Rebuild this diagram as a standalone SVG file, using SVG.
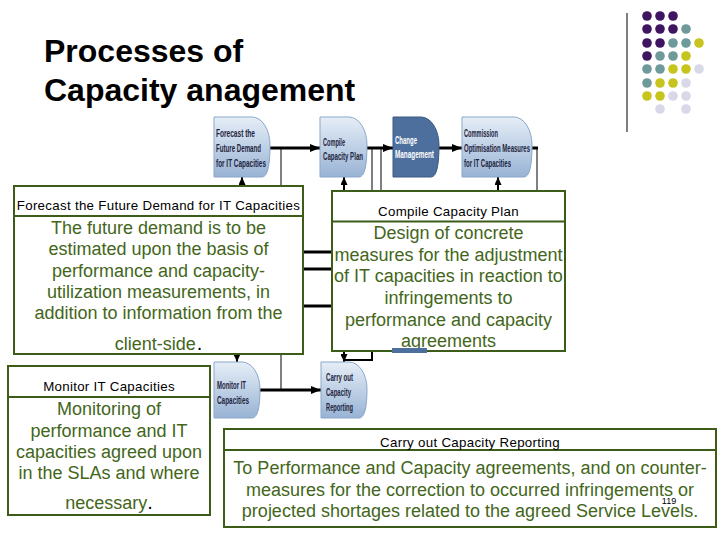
<svg xmlns="http://www.w3.org/2000/svg" width="720" height="540" viewBox="0 0 720 540">
<defs>
<linearGradient id="pg" x1="0" y1="0" x2="0" y2="1">
<stop offset="0" stop-color="#e6eef7"/>
<stop offset="1" stop-color="#98b3d4"/>
</linearGradient>
<marker id="ah" markerUnits="userSpaceOnUse" markerWidth="10" markerHeight="8" refX="10" refY="4" orient="auto">
<path d="M0,0 L10,4 L0,8 Z" fill="#000"/>
</marker>
<marker id="ahs" markerUnits="userSpaceOnUse" markerWidth="8" markerHeight="7" refX="8" refY="3.5" orient="auto">
<path d="M0,0 L8,3.5 L0,7 Z" fill="#000"/>
</marker>
</defs>
<style>
.title{font-family:"Liberation Sans",Arial,sans-serif;font-weight:bold;font-size:32px;fill:#000}
.proc{fill:url(#pg);stroke:#8ba7c9;stroke-width:1}
.procd{fill:#4c6f9e;stroke:#3c5a82;stroke-width:1}
.pt{font-family:"Liberation Sans",Arial,sans-serif;font-weight:bold;font-size:10px;fill:#1e2440}
.ptw{font-family:"Liberation Sans",Arial,sans-serif;font-weight:bold;font-size:10px;fill:#ffffff}
.box{fill:#fff;stroke:#3d5c18;stroke-width:2}
.div{stroke:#3d5c18;stroke-width:2}
.hd{font-family:"Liberation Sans",Arial,sans-serif;font-size:13.3px;letter-spacing:0.3px;fill:#000;text-anchor:middle}
.bd{font-family:"Liberation Sans",Arial,sans-serif;font-size:18px;fill:#43661b;text-anchor:middle}
.thick{stroke:#000;stroke-width:3;fill:none}
.med{stroke:#000;stroke-width:2;fill:none}
.thin{stroke:#000;stroke-width:1;fill:none}
</style>
<rect width="720" height="540" fill="#fff"/>

<g id="title">
<text class="title" x="44" y="62">Processes of</text>
<text class="title" x="44" y="101">Capacity anagement</text>
</g>

<g id="decor">
<line x1="627" y1="13" x2="627" y2="132" stroke="#000" stroke-width="1"/>
<g fill="#3f1461">
<circle cx="647" cy="16" r="4.8"/><circle cx="660" cy="16" r="4.8"/><circle cx="673" cy="16" r="4.8"/>
<circle cx="647" cy="29" r="4.8"/><circle cx="660" cy="29" r="4.8"/><circle cx="673" cy="29" r="4.8"/>
<circle cx="647" cy="43" r="4.8"/><circle cx="660" cy="43" r="4.8"/>
<circle cx="647" cy="56" r="4.8"/>
</g>
<g fill="#6e9a9a">
<circle cx="686" cy="29" r="4.8"/>
<circle cx="673" cy="43" r="4.8"/><circle cx="686" cy="43" r="4.8"/>
<circle cx="660" cy="56" r="4.8"/><circle cx="673" cy="56" r="4.8"/>
<circle cx="647" cy="69" r="4.8"/><circle cx="660" cy="69" r="4.8"/>
<circle cx="647" cy="83" r="4.8"/>
</g>
<g fill="#c8c41e">
<circle cx="699" cy="43" r="4.8"/>
<circle cx="686" cy="56" r="4.8"/>
<circle cx="673" cy="69" r="4.8"/><circle cx="686" cy="69" r="4.8"/>
<circle cx="660" cy="83" r="4.8"/><circle cx="673" cy="83" r="4.8"/>
<circle cx="647" cy="96" r="4.8"/><circle cx="660" cy="96" r="4.8"/>
</g>
<g fill="#d8d8e8">
<circle cx="699" cy="69" r="4.8"/>
<circle cx="686" cy="83" r="4.8"/>
<circle cx="673" cy="96" r="4.8"/><circle cx="686" cy="96" r="4.8"/>
<circle cx="660" cy="109" r="4.8"/><circle cx="686" cy="109" r="4.8"/>
</g>
</g>

<g id="connectors">
<line class="thin" x1="281" y1="148" x2="281" y2="186"/>
<line class="thin" x1="372" y1="148" x2="372" y2="191"/>
<line class="thin" x1="381" y1="148" x2="381" y2="191"/>
<line class="thin" x1="537" y1="148" x2="537" y2="191"/>
<line class="thick" x1="270" y1="148" x2="320" y2="148" marker-end="url(#ah)"/>
<line class="thick" x1="367" y1="148" x2="393" y2="148" marker-end="url(#ah)"/>
<line class="thick" x1="439" y1="148" x2="462" y2="148" marker-end="url(#ah)"/>
<line class="thick" x1="532" y1="148" x2="538" y2="148"/>
<line class="med" x1="242" y1="186" x2="242" y2="177" marker-end="url(#ahs)"/>
<line class="med" x1="344" y1="191" x2="344" y2="177" marker-end="url(#ahs)"/>
<line class="med" x1="498" y1="191" x2="498" y2="177" marker-end="url(#ahs)"/>
<line class="thick" x1="303" y1="252" x2="332" y2="252"/>
<line class="thick" x1="303" y1="269" x2="332" y2="269"/>
<line class="thick" x1="303" y1="306" x2="332" y2="306"/>
<line class="med" x1="237" y1="354" x2="237" y2="362" marker-end="url(#ahs)"/>
<line class="thin" x1="281" y1="354" x2="281" y2="390"/>
<line class="thick" x1="260" y1="390" x2="321" y2="390" marker-end="url(#ah)"/>
<polyline class="med" points="372,351 372,360 345,360"/>
<line class="med" x1="344" y1="351" x2="344" y2="362" marker-end="url(#ahs)"/>
</g>

<g id="p-forecast">
<path class="proc" d="M214,117 H252 A18 28 0 0 1 270,145 Q270,177 262,177 H214 Z"/>
<text class="pt" x="216" y="137" textLength="39" lengthAdjust="spacingAndGlyphs">Forecast the</text>
<text class="pt" x="216" y="152" textLength="45" lengthAdjust="spacingAndGlyphs">Future Demand</text>
<text class="pt" x="216" y="167" textLength="50" lengthAdjust="spacingAndGlyphs">for IT Capacities</text>
</g>
<g id="p-compile">
<path class="proc" d="M320,117 H349 A18 28 0 0 1 367,145 Q367,177 359,177 H320 Z"/>
<text class="pt" x="323" y="146" textLength="22" lengthAdjust="spacingAndGlyphs">Compile</text>
<text class="pt" x="323" y="160" textLength="40" lengthAdjust="spacingAndGlyphs">Capacity Plan</text>
</g>
<g id="p-change">
<path class="procd" d="M393,117 H421 A18 28 0 0 1 439,145 Q439,177 431,177 H393 Z"/>
<text class="ptw" x="395" y="144" textLength="22" lengthAdjust="spacingAndGlyphs">Change</text>
<text class="ptw" x="395" y="158" textLength="39" lengthAdjust="spacingAndGlyphs">Management</text>
</g>
<g id="p-commission">
<path class="proc" d="M462,117 H514 A18 28 0 0 1 532,145 Q532,177 524,177 H462 Z"/>
<text class="pt" x="464" y="137" textLength="34" lengthAdjust="spacingAndGlyphs">Commission</text>
<text class="pt" x="464" y="152" textLength="66" lengthAdjust="spacingAndGlyphs">Optimisation Measures</text>
<text class="pt" x="464" y="167" textLength="47" lengthAdjust="spacingAndGlyphs">for IT Capacities</text>
</g>
<g id="p-monitor">
<path class="proc" d="M214,362 H242 A18 27 0 0 1 260,389 Q260,418 252,418 H214 Z"/>
<text class="pt" x="217" y="389" textLength="29" lengthAdjust="spacingAndGlyphs">Monitor IT</text>
<text class="pt" x="217" y="404" textLength="32" lengthAdjust="spacingAndGlyphs">Capacities</text>
</g>
<g id="p-report">
<path class="proc" d="M321,362 H349 A18 27 0 0 1 367,389 Q367,418 359,418 H321 Z"/>
<text class="pt" x="326" y="381" textLength="27" lengthAdjust="spacingAndGlyphs">Carry out</text>
<text class="pt" x="326" y="396" textLength="25" lengthAdjust="spacingAndGlyphs">Capacity</text>
<text class="pt" x="326" y="411" textLength="27" lengthAdjust="spacingAndGlyphs">Reporting</text>
</g>

<g id="box-forecast">
<rect class="box" x="14" y="186" width="289" height="168"/>
<line class="div" x1="14" y1="216" x2="303" y2="216"/>
<text class="hd" x="158.5" y="210">Forecast the Future Demand for IT Capacities</text>
<text class="bd" x="158.5" y="234">The future demand is to be</text>
<text class="bd" x="158.5" y="255">estimated upon the basis of</text>
<text class="bd" x="158.5" y="277">performance and capacity-</text>
<text class="bd" x="158.5" y="298">utilization measurements, in</text>
<text class="bd" x="158.5" y="319">addition to information from the</text>
<text class="bd" x="158.5" y="350">client-side<tspan fill="#000" font-size="20" dx="1">.</tspan></text>
</g>

<g id="box-compile">
<rect class="box" x="332" y="191" width="233" height="160"/>
<line class="div" x1="332" y1="221.5" x2="565" y2="221.5"/>
<text class="hd" x="448.5" y="216">Compile Capacity Plan</text>
<text class="bd" x="448.5" y="239">Design of concrete</text>
<text class="bd" x="448.5" y="261">measures for the adjustment</text>
<text class="bd" x="448.5" y="282">of IT capacities in reaction to</text>
<text class="bd" x="448.5" y="304">infringements to</text>
<text class="bd" x="448.5" y="326">performance and capacity</text>
<text class="bd" x="448.5" y="347">agreements</text>
</g>

<g id="hidden-shape">
<rect x="392" y="348" width="35" height="5" fill="#4c6f9e"/>
</g>

<g id="box-monitor">
<rect class="box" x="8" y="366" width="202" height="149"/>
<line class="div" x1="8" y1="397" x2="210" y2="397"/>
<text class="hd" x="109" y="391">Monitor IT Capacities</text>
<text class="bd" x="109" y="415">Monitoring of</text>
<text class="bd" x="109" y="437">performance and IT</text>
<text class="bd" x="109" y="458">capacities agreed upon</text>
<text class="bd" x="109" y="479">in the SLAs and where</text>
<text class="bd" x="109" y="509">necessary<tspan fill="#000" font-size="20">.</tspan></text>
</g>

<g id="box-report">
<rect class="box" x="224" y="429" width="492" height="98"/>
<line class="div" x1="224" y1="450" x2="716" y2="450"/>
<text class="hd" x="470" y="447">Carry out Capacity Reporting</text>
<text class="bd" x="470" y="474">To Performance and Capacity agreements, and on counter-</text>
<text class="bd" x="470" y="496">measures for the correction to occurred infringements or</text>
<text class="bd" x="470" y="517">projected shortages related to the agreed Service Levels.</text>
<text x="669" y="504" font-family="'Liberation Sans',Arial,sans-serif" font-size="9" fill="#000" text-anchor="middle">119</text>
</g>
</svg>
